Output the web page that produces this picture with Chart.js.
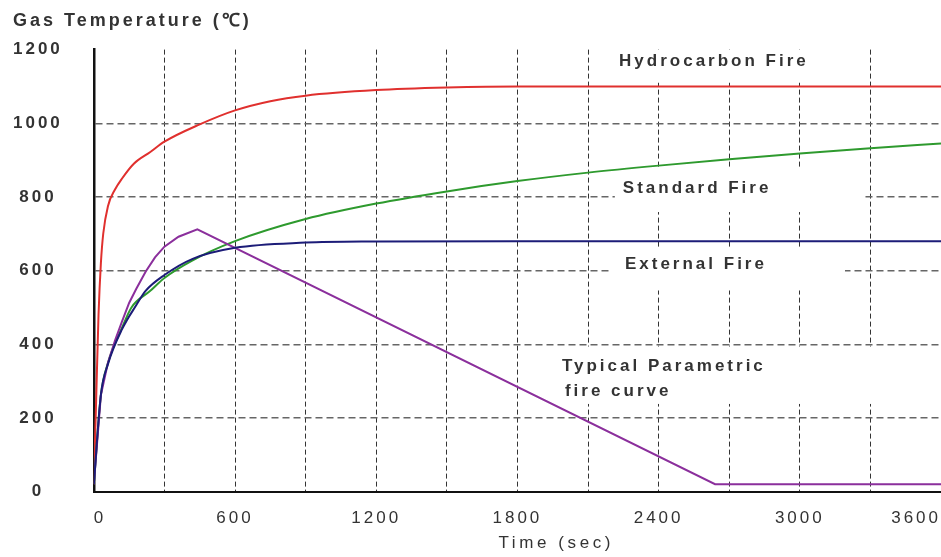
<!DOCTYPE html>
<html>
<head>
<meta charset="utf-8">
<script src="https://cdn.jsdelivr.net/npm/chart.js@4.4.1/dist/chart.umd.min.js"></script>
<style>
  html, body { margin: 0; padding: 0; background: #fff; overflow: hidden; }
  canvas { display: block; }
</style>
</head>
<body>
<canvas id="fireChart" width="941" height="557"></canvas>
<script>
// Fire curves: gas temperature (°C) against time (s)
const hydroTime = [0, 10, 20, 30, 40, 60, 90, 120, 170, 240, 300, 450, 600, 750, 900, 1200, 1500, 1800, 2400, 3000, 3600];
const hydroTemp = [20, 250, 480, 620, 700, 775, 820, 850, 890, 922, 950, 997, 1035, 1060, 1075, 1090, 1097, 1100, 1100, 1100, 1100];

const standardTime = [0, 30, 60, 120, 160, 240, 300, 420, 600, 900, 1200, 1500, 1800, 2100, 2400, 2700, 3000, 3300, 3600];
const standardTemp = [20, 261, 349, 445, 500, 545, 580, 628, 680, 740, 782, 815, 843, 866, 885, 902, 918, 932, 945];

const externalTime = [0, 30, 60, 120, 180, 220, 300, 420, 600, 900, 1200, 1800, 2400, 3000, 3600];
const externalTemp = [20, 263, 346, 441, 506, 545, 588, 632, 662, 676, 679, 680, 680, 680, 680];

const parametricTime = [0, 30, 60, 90, 120, 150, 180, 220, 260, 300, 360, 440, 2640, 3600];
const parametricTemp = [20, 262, 350, 410, 462, 512, 550, 597, 636, 665, 692, 712, 20, 20];

// Axis tick labels
const timeTicks = [0, 600, 1200, 1800, 2400, 3000, 3600];
const tempTicks = [0, 200, 400, 600, 800, 1000, 1200];

const toPoints = (xs, ys) => xs.map((x, i) => ({ x, y: ys[i] }));

// Curve names written on the plot, in data coordinates, each on a white patch
const curveNotes = [
  { text: 'Hydrocarbon Fire',   t: 2232, temp: 1168 },
  { text: 'Standard Fire',      t: 2248, temp: 823 },
  { text: 'External Fire',      t: 2257, temp: 616 },
  { text: 'Typical Parametric', t: 1989, temp: 341 },
  { text: 'fire curve',         t: 2002, temp: 272 }
];
const notePatches = [
  { t0: 2150, t1: 3213, top: 1200, bottom: 1110 },
  { t0: 2214, t1: 3268, top: 881,  bottom: 759 },
  { t0: 2193, t1: 3192, top: 661,  bottom: 546 },
  { t0: 1896, t1: 3426, top: 394,  bottom: 238 }
];
const xAxisTitle = 'Time (sec)';

const TEXT_COLOR = '#333';
const FONT = "'Liberation Sans', Arial, Helvetica, sans-serif";
const CLEAR = 'rgba(0,0,0,0)';
Chart.defaults.font.family = FONT;
Chart.defaults.color = TEXT_COLOR;

// Wide tracking on every piece of text drawn on the canvas
const tracking = {
  id: 'tracking',
  beforeUpdate(chart) { chart.ctx.letterSpacing = '3px'; },
  beforeDraw(chart) { chart.ctx.letterSpacing = '3px'; }
};

const notes = {
  id: 'notes',
  beforeDatasetsDraw(chart) {
    const { ctx, chartArea: a, scales: { x, y } } = chart;
    ctx.save();
    ctx.beginPath();
    ctx.rect(a.left + 2, a.top, a.right - a.left, a.bottom - a.top - 2);
    ctx.clip();
    ctx.fillStyle = '#fff';
    notePatches.forEach(p => {
      const x0 = x.getPixelForValue(p.t0), x1 = x.getPixelForValue(p.t1);
      const y0 = y.getPixelForValue(p.top), y1 = y.getPixelForValue(p.bottom);
      ctx.fillRect(x0, y0, x1 - x0, y1 - y0);
    });
    ctx.restore();
  },
  afterDatasetsDraw(chart) {
    const { ctx, scales: { x, y } } = chart;
    ctx.save();
    ctx.letterSpacing = '3px';
    ctx.font = 'bold 17px ' + FONT;
    ctx.fillStyle = TEXT_COLOR;
    ctx.textAlign = 'left';
    ctx.textBaseline = 'middle';
    curveNotes.forEach(n => {
      ctx.fillText(n.text, x.getPixelForValue(n.t), y.getPixelForValue(n.temp));
    });
    ctx.restore();
  },
  afterDraw(chart) {
    // axis caption below the time labels
    const { ctx, scales: { x } } = chart;
    ctx.save();
    ctx.letterSpacing = '3.6px';
    ctx.font = '17px ' + FONT;
    ctx.fillStyle = TEXT_COLOR;
    ctx.textAlign = 'center';
    ctx.textBaseline = 'alphabetic';
    ctx.fillText(xAxisTitle, x.getPixelForValue(1965), 547.5);
    ctx.restore();
  }
};

const lineStyle = (color) => ({
  borderColor: color,
  backgroundColor: color,
  borderWidth: 2,
  pointRadius: 0,
  fill: false
});

new Chart(document.getElementById('fireChart'), {
  type: 'line',
  data: {
    datasets: [
      { label: 'External Fire', data: toPoints(externalTime, externalTemp), ...lineStyle('#1c1c78'), cubicInterpolationMode: 'monotone' },
      { label: 'Typical Parametric fire curve', data: toPoints(parametricTime, parametricTemp), ...lineStyle('#8b2f9c'), tension: 0 },
      { label: 'Standard Fire', data: toPoints(standardTime, standardTemp), ...lineStyle('#2e9a2e'), cubicInterpolationMode: 'monotone' },
      { label: 'Hydrocarbon Fire', data: toPoints(hydroTime, hydroTemp), ...lineStyle('#e0302e'), cubicInterpolationMode: 'monotone' }
    ]
  },
  options: {
    responsive: false,
    animation: false,
    events: [],
    layout: { padding: { left: 13, right: 0, top: 0, bottom: 28 } },
    plugins: {
      legend: { display: false },
      tooltip: { enabled: false },
      title: {
        display: true,
        text: 'Gas Temperature (℃)',
        align: 'start',
        color: TEXT_COLOR,
        font: { size: 18, weight: 'bold' },
        padding: { top: 10, bottom: 18 }
      }
    },
    scales: {
      x: {
        type: 'linear',
        min: 0,
        max: 3600,
        ticks: {
          stepSize: 300,
          autoSkip: false,
          maxRotation: 0,
          align: 'inner',
          padding: 0,
          color: TEXT_COLOR,
          font: { size: 17 },
          callback: v => timeTicks.includes(v) ? String(v) : ''
        },
        grid: {
          drawTicks: true,
          tickLength: 17,
          tickColor: CLEAR,
          lineWidth: 1,
          color: c => (c.tick && (c.tick.value === 0 || c.tick.value === 3600)) ? CLEAR : '#333'
        },
        border: { display: true, color: '#111', width: 2, dash: [5, 3] }
      },
      y: {
        min: 0,
        max: 1200,
        ticks: {
          stepSize: 200,
          crossAlign: 'center',
          padding: 0,
          color: TEXT_COLOR,
          font: { size: 17, weight: 'bold' },
          callback: v => tempTicks.includes(v) ? String(v) : ''
        },
        grid: {
          drawTicks: true,
          tickLength: 31,
          tickColor: CLEAR,
          lineWidth: 1.5,
          color: c => (c.tick && (c.tick.value === 0 || c.tick.value === 1200)) ? CLEAR : '#666'
        },
        border: { display: true, color: '#111', width: 2.5, dash: [7, 4] }
      }
    }
  },
  plugins: [tracking, notes]
});
</script>
</body>
</html>
